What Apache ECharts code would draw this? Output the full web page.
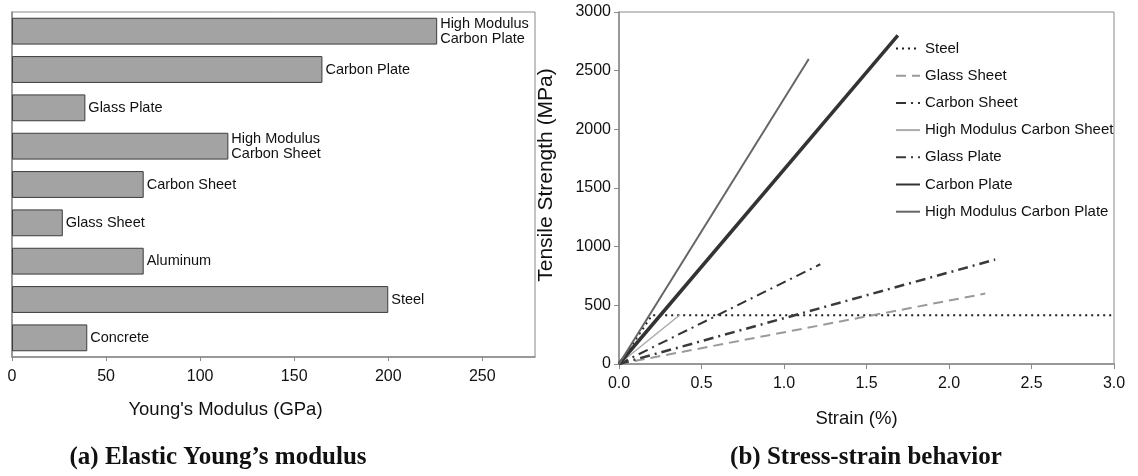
<!DOCTYPE html>
<html>
<head>
<meta charset="utf-8">
<script src="https://cdn.jsdelivr.net/npm/echarts@6/dist/echarts.min.js"></script>
<style>
  html, body { margin: 0; padding: 0; background: #fff; }
  #chart { width: 1138px; height: 476px; }
</style>
</head>
<body>
<div id="chart"></div>
<script>
// (a) Young's modulus per material, bottom to top
const materials = ['Concrete', 'Steel', 'Aluminum', 'Glass Sheet', 'Carbon Sheet',
  'High Modulus\nCarbon Sheet', 'Glass Plate', 'Carbon Plate', 'High Modulus\nCarbon Plate'];
const modulusGPa = [40, 200, 70, 27, 70, 115, 39, 165, 226];

// (b) stress-strain curves: strain (%) and tensile strength (MPa)
const curveNames = ['Steel', 'Glass Sheet', 'Carbon Sheet', 'High Modulus Carbon Sheet',
  'Glass Plate', 'Carbon Plate', 'High Modulus Carbon Plate'];
const steelStrain = [0, 0.2, 3.0];
const steelStress = [0, 415, 415];
const glassSheetStrain = [0, 2.22];
const glassSheetStress = [0, 600];
const carbonSheetStrain = [0, 1.22];
const carbonSheetStress = [0, 850];
const hmCarbonSheetStrain = [0, 0.37];
const hmCarbonSheetStress = [0, 420];
const glassPlateStrain = [0, 2.28];
const glassPlateStress = [0, 890];
const carbonPlateStrain = [0, 1.69];
const carbonPlateStress = [0, 2800];
const hmCarbonPlateStrain = [0, 1.15];
const hmCarbonPlateStress = [0, 2600];

const modulusTicks = [0, 50, 100, 150, 200, 250];
const strainTicks = [0, 0.5, 1.0, 1.5, 2.0, 2.5, 3.0];
const stressTicks = [0, 500, 1000, 1500, 2000, 2500, 3000];

const pairs = (xs, ys) => xs.map((x, i) => [x, ys[i]]);

const curveData = [
  pairs(steelStrain, steelStress),
  pairs(glassSheetStrain, glassSheetStress),
  pairs(carbonSheetStrain, carbonSheetStress),
  pairs(hmCarbonSheetStrain, hmCarbonSheetStress),
  pairs(glassPlateStrain, glassPlateStress),
  pairs(carbonPlateStrain, carbonPlateStress),
  pairs(hmCarbonPlateStrain, hmCarbonPlateStress)
];

const curveStyles = [
  { color: '#1e1e1e', width: 2, type: [2, 4] },
  { color: '#9a9a9a', width: 2, type: [10, 6] },
  { color: '#333333', width: 2, type: [10, 5, 2, 5] },
  { color: '#ababab', width: 1.5, type: 'solid' },
  { color: '#3a3a3a', width: 2.5, type: [10, 5, 2, 5] },
  { color: '#333333', width: 3.5, type: 'solid' },
  { color: '#666666', width: 2, type: 'solid' }
];

const FONT = 'Liberation Sans, Arial, sans-serif';
const TXT = '#111';
const AXIS = '#8a8a8a';

const chart = echarts.init(document.getElementById('chart'), null, { renderer: 'canvas' });

const lineSeries = curveNames.map((name, i) => ({
  name: name,
  type: 'line',
  xAxisIndex: 1,
  yAxisIndex: 1,
  data: curveData[i],
  showSymbol: false,
  symbol: 'none',
  silent: true,
  animation: false,
  lineStyle: curveStyles[i],
  itemStyle: { color: curveStyles[i].color }
}));

chart.setOption({
  animation: false,
  textStyle: { fontFamily: FONT },
  grid: [
    { left: 12, top: 12, width: 523, height: 345, show: true, borderColor: AXIS, borderWidth: 1 },
    { left: 619, top: 12, width: 495, height: 352, show: true, borderColor: AXIS, borderWidth: 1 }
  ],
  legend: {
    orient: 'vertical',
    left: 890,
    top: 36,
    padding: 5,
    itemWidth: 24,
    itemHeight: 14,
    itemGap: 12.2,
    data: curveNames,
    itemStyle: { opacity: 0 },
    textStyle: { fontSize: 15, color: TXT, fontFamily: FONT },
    selectedMode: false
  },
  xAxis: [
    {
      gridIndex: 0,
      type: 'value',
      min: 0,
      max: 278,
      interval: 50,
      name: "Young's Modulus (GPa)",
      nameLocation: 'middle',
      nameGap: 43,
      nameTextStyle: { fontSize: 18.5, color: TXT, fontFamily: FONT, padding: [0, 96, 0, 0] },
      axisLine: { show: true, lineStyle: { color: AXIS, width: 1.5 } },
      axisTick: { show: true, length: 4, lineStyle: { color: AXIS } },
      axisLabel: {
        fontSize: 16, color: TXT, margin: 12, showMaxLabel: false,
        formatter: v => modulusTicks.includes(v) ? String(v) : ''
      },
      splitLine: { show: false }
    },
    {
      gridIndex: 1,
      type: 'value',
      min: 0,
      max: 3,
      interval: 0.5,
      name: 'Strain (%)',
      nameLocation: 'middle',
      nameGap: 45,
      nameTextStyle: { fontSize: 18.5, color: TXT, fontFamily: FONT, padding: [0, 20, 0, 0] },
      axisLine: { show: true, lineStyle: { color: AXIS, width: 1.5 } },
      axisTick: { show: true, length: 5, lineStyle: { color: AXIS } },
      axisLabel: {
        fontSize: 16, color: TXT, margin: 12,
        formatter: v => strainTicks.some(t => Math.abs(t - v) < 1e-9) ? v.toFixed(1) : ''
      },
      splitLine: { show: false }
    }
  ],
  yAxis: [
    {
      gridIndex: 0,
      type: 'category',
      data: materials,
      axisLine: { show: true, lineStyle: { color: AXIS, width: 1.5 } },
      axisTick: { show: false },
      axisLabel: { show: false }
    },
    {
      gridIndex: 1,
      type: 'value',
      min: 0,
      max: 3000,
      interval: 500,
      name: 'Tensile Strength (MPa)',
      nameLocation: 'middle',
      nameRotate: 90,
      nameGap: 62,
      nameTextStyle: { fontSize: 21, color: TXT, fontFamily: FONT, padding: [0, 0, 0, 26] },
      axisLine: { show: true, lineStyle: { color: AXIS, width: 1.5 } },
      axisTick: { show: true, length: 5, lineStyle: { color: AXIS } },
      axisLabel: {
        fontSize: 16, color: TXT, margin: 8,
        formatter: v => stressTicks.includes(v) ? String(v) : ''
      },
      splitLine: { show: false }
    }
  ],
  series: [
    {
      type: 'bar',
      xAxisIndex: 0,
      yAxisIndex: 0,
      data: modulusGPa,
      barCategoryGap: '30%',
      silent: true,
      itemStyle: { color: '#a3a3a3', borderColor: '#3c3c3c', borderWidth: 1 },
      label: {
        show: true,
        position: 'right',
        distance: 3,
        formatter: p => p.name,
        fontSize: 14.5,
        lineHeight: 15,
        color: TXT,
        fontFamily: FONT
      }
    }
  ].concat(lineSeries),
  graphic: [
    {
      type: 'text',
      style: {
        text: "(a) Elastic Young’s modulus",
        x: 218, y: 458,
        textAlign: 'center', textVerticalAlign: 'middle',
        font: 'bold 25px "Liberation Serif", "Times New Roman", serif',
        fill: '#111'
      }
    },
    {
      type: 'text',
      style: {
        text: '(b) Stress-strain behavior',
        x: 866, y: 458,
        textAlign: 'center', textVerticalAlign: 'middle',
        font: 'bold 25px "Liberation Serif", "Times New Roman", serif',
        fill: '#111'
      }
    }
  ]
});
</script>
</body>
</html>
